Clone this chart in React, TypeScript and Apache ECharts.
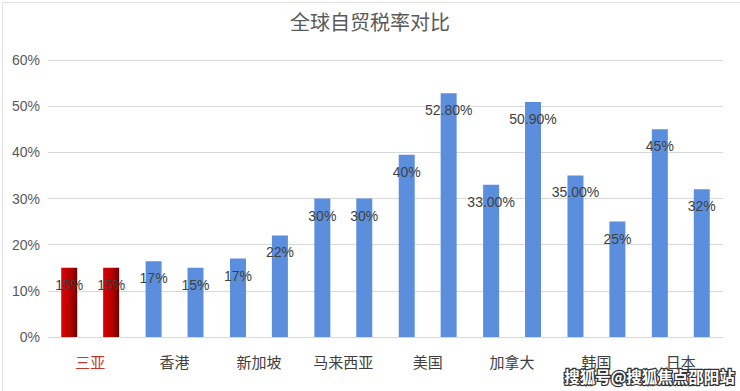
import React, { useEffect, useRef } from "react";
import * as echarts from "echarts";

const categories = ["三亚", "香港", "新加坡", "马来西亚", "美国", "加拿大", "韩国", "日本"];
const seriesA = [15, 16.4, 17, 30, 39.5, 33, 35, 45];
const seriesB = [15, 15, 22, 30, 52.8, 50.9, 25, 32];
const labelsA = ["15%", "17%", "17%", "30%", "40%", "33.00%", "35.00%", "45%"];
const labelsB = ["15%", "15%", "22%", "30%", "52.80%", "50.90%", "25%", "32%"];
const yTicks = [0, 10, 20, 30, 40, 50, 60];

const FONT = "'Liberation Sans', 'Noto Sans CJK SC', sans-serif";
const BLUE = "#5b8fde";
const redGradient = new echarts.graphic.LinearGradient(0, 0, 1, 0, [
  { offset: 0, color: "#e00000" },
  { offset: 0.6, color: "#b00000" },
  { offset: 1, color: "#6e0000" },
]);

function buildData(values: number[], labels: string[]) {
  return values.map((v, i) => ({
    value: v,
    label: { formatter: labels[i] },
    itemStyle: i === 0 ? { color: redGradient } : { color: BLUE },
  }));
}

export default function App() {
  const ref = useRef<HTMLDivElement>(null);
  useEffect(() => {
    if (!ref.current) return;
    const chart = echarts.init(ref.current, null, { renderer: "svg" });
    const labelStyle = {
      show: true,
      position: "insideTop",
      distance: 10,
      color: "#404040",
      fontSize: 14,
      fontFamily: FONT,
    };
    chart.setOption({
      animation: false,
      backgroundColor: "#ffffff",
      title: {
        text: "全球自贸税率对比",
        left: "center",
        top: 8,
        textStyle: { color: "#595959", fontSize: 20, fontWeight: "normal", fontFamily: FONT },
      },
      grid: { left: 48, right: 17, top: 60, bottom: 54 },
      xAxis: {
        type: "category",
        data: categories,
        axisLine: { lineStyle: { color: "#d9d9d9" } },
        axisTick: { show: false },
        axisLabel: {
          margin: 18,
          fontSize: 15,
          fontFamily: FONT,
          color: (v: string) => (v === "三亚" ? "#c0392b" : "#404040"),
        },
      },
      yAxis: {
        type: "value",
        min: yTicks[0],
        max: yTicks[yTicks.length - 1],
        interval: 10,
        axisLine: { show: false },
        axisTick: { show: false },
        splitLine: { lineStyle: { color: "#d9d9d9" } },
        axisLabel: {
          formatter: "{value}%",
          color: "#595959",
          fontSize: 14,
          fontFamily: FONT,
          margin: 8,
        },
      },
      series: [
        {
          type: "bar",
          data: buildData(seriesA, labelsA),
          barWidth: 16,
          barGap: "162%",
          label: labelStyle,
        },
        {
          type: "bar",
          data: buildData(seriesB, labelsB),
          barWidth: 16,
          barGap: "162%",
          label: labelStyle,
        },
      ],
      graphic: [
        {
          type: "rect",
          left: 0,
          top: 0,
          shape: { width: 738, height: 389 },
          style: { fill: "none", stroke: "#e0e0e0", lineWidth: 1 },
          silent: true,
        },
        {
          type: "text",
          right: 4,
          top: 367,
          style: {
            text: "搜狐号@搜狐焦点邵阳站",
            fill: "#ffffff",
            stroke: "#333333",
            lineWidth: 2.5,
            fontSize: 15.5,
            fontWeight: "bold",
            fontFamily: "'Noto Sans CJK SC', sans-serif",
          },
          z: 100,
        },
      ],
    });
    return () => chart.dispose();
  }, []);
  return (
    <div
      ref={ref}
      style={{ position: "fixed", left: 0, top: 0, width: 740, height: 391 }}
    />
  );
}
